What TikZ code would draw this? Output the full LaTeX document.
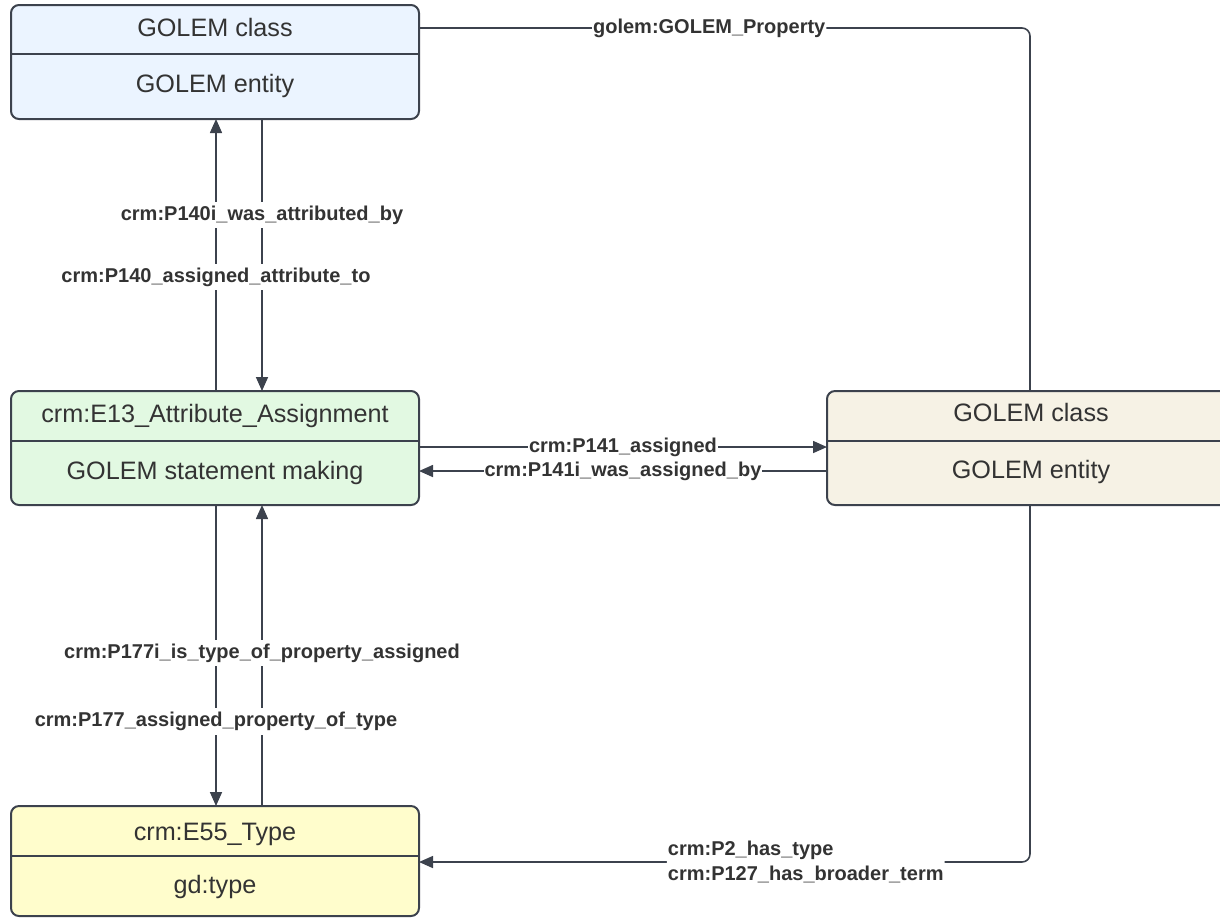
\documentclass[tikz,border=0pt]{standalone}
\usepackage{fontspec}
\setmainfont{Liberation Sans}
\usetikzlibrary{arrows.meta}

\definecolor{edgecol}{RGB}{60,66,77}
\definecolor{txtcol}{RGB}{51,51,51}
\definecolor{bluefill}{RGB}{235,244,255}
\definecolor{greenfill}{RGB}{226,249,226}
\definecolor{beigefill}{RGB}{246,242,229}
\definecolor{yellowfill}{RGB}{255,253,204}

\tikzset{
  umlbox/.style={draw=edgecol, line width=1pt, rounded corners=4pt,
    minimum width=204pt, inner sep=0pt, outer sep=0pt},
  boxtext/.style={text=txtcol, font=\fontsize{12.6}{15}\selectfont,
    anchor=base, inner sep=0pt},
  divider/.style={draw=edgecol, line width=1pt},
  conn/.style={draw=edgecol, line width=0.8pt},
  arr/.style={conn, -{Triangle[length=7pt,width=6pt]}},
  lbl/.style={fill=white, text=txtcol,
    font=\bfseries\fontsize{10}{12.5}\selectfont, inner xsep=0.5pt, inner ysep=2pt}
}

\begin{document}
\begin{tikzpicture}[x=0.5pt,y=-0.5pt]
\useasboundingbox (0,0) rectangle (1220,918);

% class boxes
\node[umlbox, fill=bluefill,   minimum height=57pt] (A) at (215,62) {};
\node[umlbox, fill=greenfill,  minimum height=57pt] (B) at (215,448) {};
\node[umlbox, fill=beigefill,  minimum height=57pt] (R) at (1031,448) {};
\node[umlbox, fill=yellowfill, minimum height=55pt] (C) at (215,861) {};

% compartment dividers
\draw[divider] (A.west |- 0,54)  -- (A.east |- 0,54);
\draw[divider] (B.west |- 0,441) -- (B.east |- 0,441);
\draw[divider] (R.west |- 0,441) -- (R.east |- 0,441);
\draw[divider] (C.west |- 0,856) -- (C.east |- 0,856);

% compartment texts
\node[boxtext] (A1) at (215,36)  {GOLEM class};
\node[boxtext] (A2) at (215,92)  {GOLEM entity};
\node[boxtext] (B1) at (215,422) {crm:E13\_Attribute\_Assignment};
\node[boxtext] (B2) at (215,479) {GOLEM statement making};
\node[boxtext] (R1) at (1031,421) {GOLEM class};
\node[boxtext] (R2) at (1031,478) {GOLEM entity};
\node[boxtext] (C1) at (215,840) {crm:E55\_Type};
\node[boxtext] (C2) at (215,893) {gd:type};

% routing coordinates
\coordinate (xl) at (216,0);
\coordinate (xr) at (262,0);
\coordinate (h1) at (0,447);
\coordinate (h2) at (0,471);
\coordinate (tr) at (1030,28);
\coordinate (br) at (1030,862);

% vertical connectors
\draw[arr] (B.north -| xl) -- (A.south -| xl);
\draw[arr] (A.south -| xr) -- (B.north -| xr);
\draw[arr] (B.south -| xl) -- (C.north -| xl);
\draw[arr] (C.north -| xr) -- (B.south -| xr);

% horizontal connectors
\draw[arr] (B.east |- h1) -- node[lbl]{crm:P141\_assigned} (R.west |- h1);
\draw[arr] (R.west |- h2) -- node[lbl]{crm:P141i\_was\_assigned\_by} (B.east |- h2);

% routed connectors
\draw[conn, rounded corners=4pt] (A.east |- tr)
  -- node[lbl, pos=0.475]{golem:GOLEM\_Property} (tr) -- (R.north -| tr);
\draw[arr, rounded corners=4pt] (R.south -| br) -- (br)
  -- node[lbl, align=left, pos=0.367]{crm:P2\_has\_type\\crm:P127\_has\_broader\_term}
  (C.east |- br);

% labels of the vertical connectors, on top of both lines
\path (B.north -| xl) -- node[lbl, pos=0.419]{crm:P140\_assigned\_attribute\_to} (A.south -| xl);
\path (A.south -| xr) -- node[lbl, pos=0.353]{crm:P140i\_was\_attributed\_by} (B.north -| xr);
\path (B.south -| xl) -- node[lbl, pos=0.718]{crm:P177\_assigned\_property\_of\_type} (C.north -| xl);
\path (C.north -| xr) -- node[lbl, pos=0.508]{crm:P177i\_is\_type\_of\_property\_assigned} (B.south -| xr);
\end{tikzpicture}
\end{document}
